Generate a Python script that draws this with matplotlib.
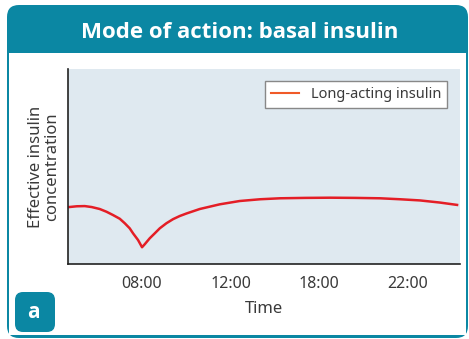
import matplotlib.pyplot as plt
from matplotlib.patches import FancyBboxPatch, Rectangle
from matplotlib.lines import Line2D

plt.rcParams['font.family'] = ['Noto Sans', 'DejaVu Sans']

# time axis in tick units (tick labels are evenly spaced)
tick_pos = [0, 1, 2, 3]
tick_labels = ['08:00', '12:00', '18:00', '22:00']

# effective insulin concentration (arbitrary units, 0..1)
t = [-0.823, -0.736, -0.646, -0.567, -0.477, -0.401, -0.327, -0.251, -0.195,
     -0.139, -0.101, -0.045, 0.0, 0.030, 0.087, 0.143, 0.200, 0.275, 0.350,
     0.425, 0.501, 0.651, 0.876, 1.101, 1.331, 1.556, 1.838, 2.120, 2.402,
     2.684, 2.910, 3.135, 3.361, 3.553]
conc = [0.292, 0.296, 0.297, 0.292, 0.282, 0.268, 0.251, 0.232, 0.209,
        0.183, 0.157, 0.123, 0.086, 0.101, 0.132, 0.157, 0.183, 0.209, 0.230,
        0.246, 0.259, 0.282, 0.306, 0.323, 0.332, 0.337, 0.339, 0.340, 0.339,
        0.337, 0.332, 0.326, 0.315, 0.303]

teal = '#0b87a3'
W, H = 469, 339
fig = plt.figure(figsize=(W / 100, H / 100), dpi=100)

# background frame drawn in pixel coordinates
bg = fig.add_axes([0, 0, 1, 1], zorder=0)
bg.set_xlim(0, W)
bg.set_ylim(H, 0)
bg.axis('off')
bg.add_patch(FancyBboxPatch((7, 5), 461, 333, boxstyle='round,pad=0,rounding_size=12',
                            fc=teal, ec='none'))
bg.add_patch(Rectangle((9, 53), 457, 282, fc='white', ec='none'))
bg.text(240, 33, 'Mode of action: basal insulin', color='white', fontsize=16,
        fontweight='bold', ha='center', va='center', family='Open Sans')
bg.add_patch(FancyBboxPatch((15, 292), 40, 40, boxstyle='round,pad=0,rounding_size=8',
                            fc=teal, ec='none'))
bg.text(33, 313, 'a', color='white', fontsize=15, fontweight='bold',
        ha='center', va='center', family='Open Sans')

ax = fig.add_axes([68 / W, 1 - 264 / H, (460 - 68) / W, (264 - 69) / H], zorder=1)
ax.set_facecolor('#dfe9f0')
ax.plot(t, conc, color='#e41e26', lw=1.8, solid_joinstyle='round')
ax.set_xlim(-0.835, 3.586)
ax.set_ylim(0, 1)
ax.set_xticks(tick_pos)
ax.set_xticklabels(tick_labels)
ax.set_yticks([])
ax.tick_params(axis='x', length=0, pad=9, labelsize=11.5, labelcolor='#3a3a3a')
for s in ['top', 'right']:
    ax.spines[s].set_visible(False)
for s in ['left', 'bottom']:
    ax.spines[s].set_color('#222222')
    ax.spines[s].set_linewidth(1.2)
ax.set_xlabel('Time', fontsize=12, color='#3a3a3a', labelpad=6)
ax.set_ylabel('Effective insulin\nconcentration', fontsize=12, color='#3a3a3a',
              linespacing=1.0, labelpad=6)

handle = Line2D([], [], color='#f05a28', lw=1.5)
leg = ax.legend([handle], ['Long-acting insulin'], loc='upper right',
                bbox_to_anchor=(0.985, 0.975), fontsize=10.5, fancybox=False,
                handlelength=1.9, borderpad=0.4, framealpha=1)
leg.get_frame().set_edgecolor('#888888')
leg.get_frame().set_linewidth(1)
for txt in leg.get_texts():
    txt.set_color('#3a3a3a')

fig.savefig('out.png', dpi=100)
